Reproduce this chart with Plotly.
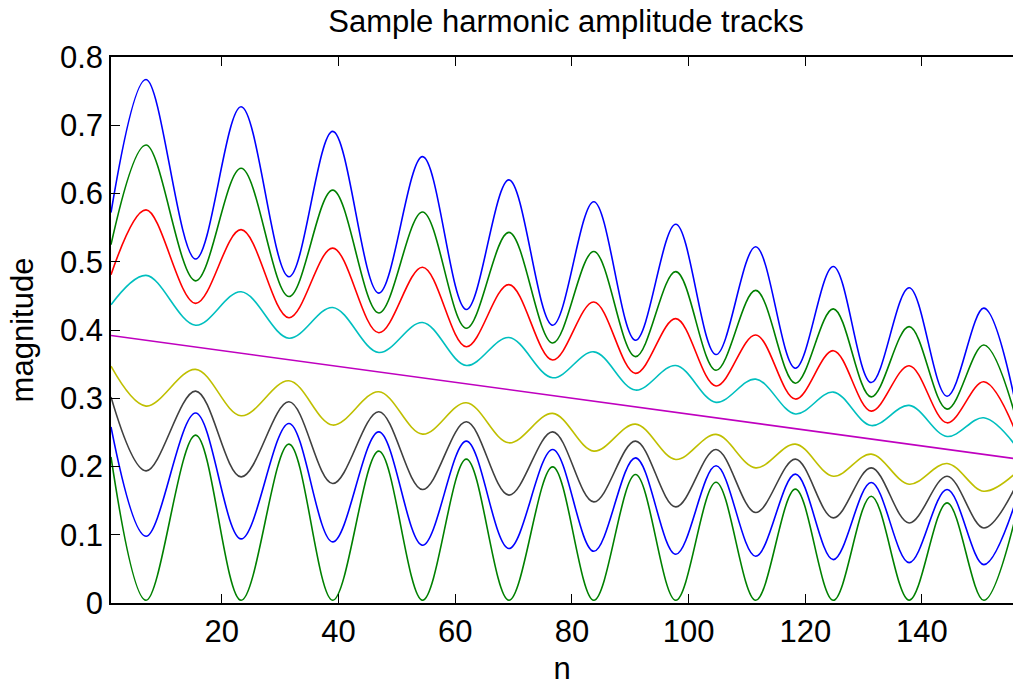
import plotly.graph_objects as go

# sample positions (n) of the extrema, plus start/end
n_ext = [1, 7, 15.5, 23.3, 31.5, 39, 46.9, 54.4, 61.9, 69.2, 76.7, 83.75,
         90.9, 97.8, 104.7, 111.5, 118.3, 124.8, 131.3, 137.8, 144.3, 150.6, 156]

blue_top = [0.572, 0.767, 0.504, 0.727, 0.478, 0.691, 0.454, 0.654, 0.430, 0.620, 0.407, 0.588,
            0.385, 0.555, 0.364, 0.522, 0.344, 0.493, 0.323, 0.462, 0.303, 0.432, 0.294]
green_top = [0.525, 0.671, 0.472, 0.637, 0.449, 0.605, 0.425, 0.573, 0.4025, 0.543, 0.381, 0.515,
             0.361, 0.4855, 0.341, 0.458, 0.322, 0.431, 0.302, 0.405, 0.284, 0.378, 0.274]
red_top = [0.481, 0.576, 0.439, 0.547, 0.418, 0.520, 0.396, 0.492, 0.3755, 0.4665, 0.356, 0.441,
           0.3365, 0.4166, 0.318, 0.3927, 0.2988, 0.3697, 0.2812, 0.3477, 0.264, 0.3242, 0.252]
cyan_top = [0.437, 0.480, 0.407, 0.456, 0.388, 0.433, 0.367, 0.411, 0.348, 0.389, 0.330, 0.368,
            0.312, 0.348, 0.294, 0.328, 0.277, 0.309, 0.260, 0.2895, 0.244, 0.2714, 0.231]

magenta_n = [1, 156]
magenta_vals = [0.392, 0.2115]

yellow_low = [0.347, 0.2885, 0.3423, 0.2743, 0.3256, 0.2607, 0.3095, 0.2474, 0.2934, 0.2347, 0.2778, 0.2225,
              0.2621, 0.2103, 0.247, 0.198, 0.2328, 0.1858, 0.2181, 0.1741, 0.2044, 0.1638, 0.190]
gray_low = [0.302, 0.1936, 0.3105, 0.1848, 0.2948, 0.1751, 0.2802, 0.1663, 0.2655, 0.158, 0.2508, 0.1481,
            0.2372, 0.1408, 0.225, 0.1326, 0.2108, 0.1247, 0.198, 0.1173, 0.1858, 0.110, 0.170]
blue_low = [0.258, 0.0978, 0.2783, 0.0939, 0.2631, 0.0895, 0.2508, 0.0846, 0.2372, 0.0798, 0.225, 0.0758,
            0.2127, 0.0714, 0.201, 0.0685, 0.1888, 0.0636, 0.1766, 0.0592, 0.1663, 0.0563, 0.147]
green_low = [0.214, 0.004, 0.246, 0.004, 0.2328, 0.004, 0.2225, 0.004, 0.2108, 0.004, 0.1995, 0.004,
             0.1883, 0.004, 0.177, 0.004, 0.1668, 0.004, 0.1565, 0.004, 0.1467, 0.004, 0.125]

x_ticks = [20, 40, 60, 80, 100, 120, 140]
y_ticks = [0, 0.1, 0.2, 0.3, 0.4, 0.5, 0.6, 0.7, 0.8]
y_ticktext = ["0", "0.1", "0.2", "0.3", "0.4", "0.5", "0.6", "0.7", "0.8"]

series = [
    (blue_top, "#0000FF"),
    (green_top, "#008000"),
    (red_top, "#FF0000"),
    (cyan_top, "#00BFBF"),
    (None, "#BF00BF"),
    (yellow_low, "#BFBF00"),
    (gray_low, "#404040"),
    (blue_low, "#0000FF"),
    (green_low, "#008000"),
]

FONT = "Liberation Sans, Arial, Helvetica, sans-serif"
FS = 31

fig = go.Figure()
for vals, col in series:
    if vals is None:
        fig.add_trace(go.Scatter(x=magenta_n, y=magenta_vals, mode="lines",
                                 line=dict(color=col, width=1.6), showlegend=False,
                                 hoverinfo="skip"))
    else:
        fig.add_trace(go.Scatter(x=n_ext, y=vals, mode="lines",
                                 line=dict(color=col, width=1.6, shape="spline", smoothing=1),
                                 showlegend=False, hoverinfo="skip"))

fig.update_layout(
    width=1013, height=686,
    margin=dict(l=111, r=0, t=57, b=83, autoexpand=False),
    paper_bgcolor="white", plot_bgcolor="white",
    font=dict(family=FONT, size=FS, color="black"),
    title=dict(text="Sample harmonic amplitude tracks", x=566 / 1013, xref="container",
               xanchor="center", y=1 - 10 / 686, yref="container", yanchor="top",
               font=dict(family=FONT, size=FS, color="black")),
)
fig.update_xaxes(
    range=[1, 155.6], tickvals=x_ticks, ticks="inside", ticklen=9, tickwidth=1,
    tickcolor="black", showline=True, linecolor="black", linewidth=1.5,
    mirror="ticks", showgrid=False, zeroline=False, automargin=False,
    tickfont=dict(family=FONT, size=FS, color="black"),
    title=dict(text="n", font=dict(family=FONT, size=FS, color="black"), standoff=9),
)
fig.update_yaxes(
    range=[0, 0.8], tickvals=y_ticks, ticktext=y_ticktext, ticks="inside", ticklen=9,
    tickwidth=1, tickcolor="black", showline=True, linecolor="black", linewidth=1.5,
    mirror=False, showgrid=False, zeroline=False, automargin=False,
    tickfont=dict(family=FONT, size=FS, color="black"),
    title=dict(text="magnitude", font=dict(family=FONT, size=FS, color="black"), standoff=17),
)

fig.write_html(
    "out.html",
    config={"displayModeBar": False},
    post_script="document.body.style.margin='0';document.body.style.overflow='hidden';",
)
